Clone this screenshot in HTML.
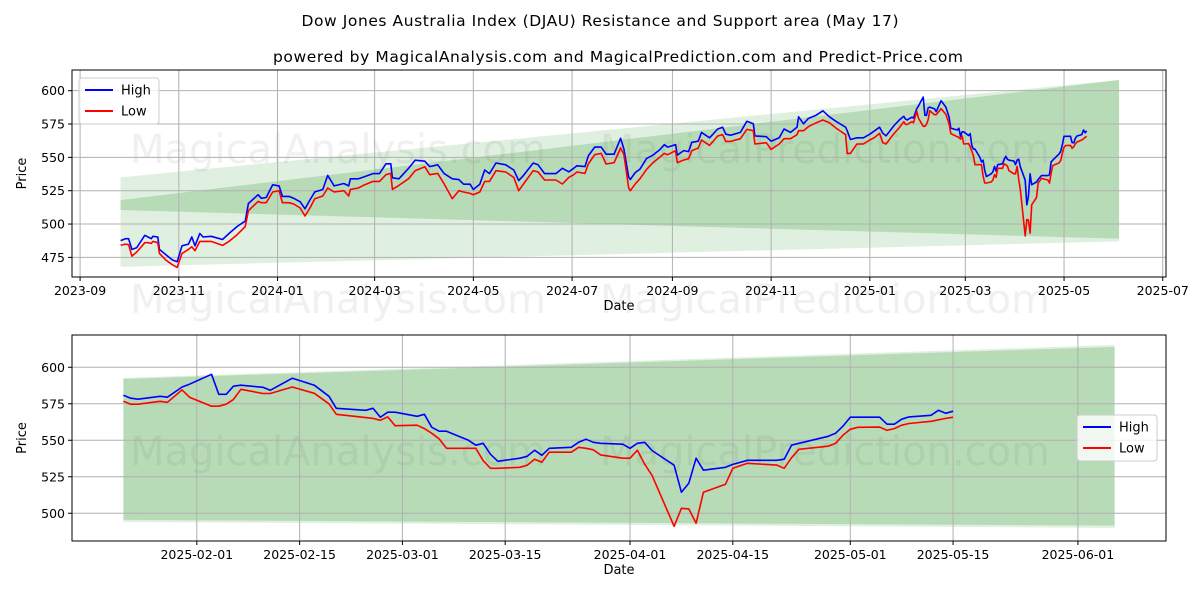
<!DOCTYPE html>
<html><head><meta charset="utf-8"><style>
html,body{margin:0;padding:0;background:#fff;}
svg{display:block;font-family:"DejaVu Sans","Liberation Sans",sans-serif;}
</style></head><body>
<svg id="chart" width="1200" height="600" viewBox="0 0 1200 600" xmlns="http://www.w3.org/2000/svg">
<rect width="1200" height="600" fill="#fff"/>
<text x="600" y="26" text-anchor="middle" font-size="15.5" textLength="597" fill="#000">Dow Jones Australia Index (DJAU) Resistance and Support area (May 17)</text>
<text x="618" y="62" text-anchor="middle" font-size="15.5" textLength="690" fill="#000">powered by MagicalAnalysis.com and MagicalPrediction.com and Predict-Price.com</text>
<g id="top"></g>
<g id="bottom"></g>
</svg>
<script>
const dates = ["2023-09-26","2023-09-29","2023-10-01","2023-10-03","2023-10-06","2023-10-11","2023-10-13","2023-10-15","2023-10-16","2023-10-19","2023-10-20","2023-10-24","2023-10-28","2023-10-31","2023-11-03","2023-11-07","2023-11-09","2023-11-11","2023-11-14","2023-11-16","2023-11-21","2023-11-28","2023-12-02","2023-12-07","2023-12-12","2023-12-14","2023-12-20","2023-12-22","2023-12-25","2023-12-29","2024-01-02","2024-01-04","2024-01-08","2024-01-11","2024-01-15","2024-01-18","2024-01-21","2024-01-24","2024-01-29","2024-02-01","2024-02-05","2024-02-11","2024-02-14","2024-02-15","2024-02-20","2024-02-23","2024-02-29","2024-03-04","2024-03-08","2024-03-11","2024-03-12","2024-03-16","2024-03-22","2024-03-26","2024-04-01","2024-04-04","2024-04-09","2024-04-13","2024-04-18","2024-04-22","2024-04-25","2024-04-29","2024-05-01","2024-05-05","2024-05-08","2024-05-11","2024-05-15","2024-05-21","2024-05-26","2024-05-29","2024-06-01","2024-06-07","2024-06-10","2024-06-14","2024-06-21","2024-06-25","2024-06-29","2024-07-02","2024-07-04","2024-07-09","2024-07-11","2024-07-15","2024-07-19","2024-07-22","2024-07-27","2024-07-31","2024-08-02","2024-08-05","2024-08-06","2024-08-09","2024-08-12","2024-08-16","2024-08-20","2024-08-24","2024-08-27","2024-08-29","2024-09-03","2024-09-04","2024-09-08","2024-09-11","2024-09-13","2024-09-17","2024-09-19","2024-09-24","2024-09-29","2024-10-02","2024-10-04","2024-10-07","2024-10-13","2024-10-17","2024-10-21","2024-10-22","2024-10-29","2024-11-01","2024-11-06","2024-11-09","2024-11-13","2024-11-17","2024-11-18","2024-11-21","2024-11-24","2024-11-29","2024-12-03","2024-12-07","2024-12-11","2024-12-17","2024-12-18","2024-12-20","2024-12-24","2024-12-28","2025-01-01","2025-01-04","2025-01-07","2025-01-09","2025-01-11","2025-01-16","2025-01-19",
"2025-01-22","2025-01-23","2025-01-24","2025-01-27","2025-01-28","2025-01-30","2025-01-31","2025-02-03","2025-02-04","2025-02-05","2025-02-06","2025-02-07","2025-02-10","2025-02-11","2025-02-14","2025-02-17","2025-02-19","2025-02-20","2025-02-24","2025-02-25","2025-02-26","2025-02-27","2025-02-28","2025-03-03","2025-03-04","2025-03-05","2025-03-06","2025-03-07","2025-03-10","2025-03-11","2025-03-12","2025-03-13","2025-03-14","2025-03-17","2025-03-18","2025-03-19","2025-03-20","2025-03-21","2025-03-24","2025-03-25","2025-03-26","2025-03-27","2025-03-28","2025-03-31","2025-04-01","2025-04-02","2025-04-03","2025-04-04","2025-04-07","2025-04-08","2025-04-09","2025-04-10","2025-04-11","2025-04-14","2025-04-15","2025-04-17","2025-04-21","2025-04-22","2025-04-23","2025-04-24","2025-04-28","2025-04-29","2025-04-30","2025-05-01","2025-05-02","2025-05-05","2025-05-06","2025-05-07","2025-05-08","2025-05-09","2025-05-12","2025-05-13","2025-05-14","2025-05-15"];
const highs = [487.6,489.0,489.0,481.0,482.3,491.6,490.3,489.0,490.8,490.3,481.0,477.0,473.1,471.8,483.7,485.0,490.3,483.7,492.9,490.3,490.8,488.4,492.9,498.2,502.2,515.4,522.0,519.3,519.9,529.4,528.6,520.7,520.7,519.3,516.7,511.4,518.0,524.1,525.9,536.5,528.6,530.4,528.6,533.9,533.9,535.2,537.8,537.8,545.2,545.2,534.7,533.9,541.8,547.9,547.1,543.1,544.4,537.8,533.9,533.3,529.9,529.9,525.9,529.9,540.5,537.8,545.8,544.4,540.5,532.6,536.5,545.8,544.4,537.8,537.8,541.8,539.2,541.8,543.7,543.1,551.1,557.7,557.7,552.4,552.4,564.3,556.3,535.2,533.4,538.6,541.2,549.1,551.7,555.6,559.5,557.7,559.5,551.7,555.1,554.3,561.3,562.1,568.7,564.7,571.3,572.6,567.4,566.6,568.7,577.0,575.2,566.1,565.5,562.1,564.7,571.3,568.7,572.6,580.4,575.2,579.1,581.7,584.9,580.4,577.0,572.6,570.0,563.4,564.7,564.7,567.4,570.0,572.6,568.1,566.1,573.9,577.8,
580.8,578.8,578.1,580.1,579.5,586.5,588.4,595.2,581.5,581.5,587.0,587.7,586.3,584.2,592.5,587.7,580.1,571.9,570.5,571.9,565.8,569.2,569.2,566.4,567.8,558.9,556.2,556.2,550.0,546.6,547.9,540.4,535.6,537.7,539.0,543.2,539.7,544.5,545.2,548.6,550.7,548.6,547.9,547.3,544.5,547.9,548.6,543.0,532.9,514.4,520.5,537.7,529.5,531.5,533.5,536.3,536.3,537.0,546.6,547.9,552.7,554.8,559.6,565.8,565.8,565.8,561.0,561.0,564.4,566.0,567.1,570.5,568.5,569.9];
const lows = [484,485,484.5,476,479,486,486,485.5,487,486,478,473,469.5,467.5,478,481,483,480,487,487,487,484,487,492,498,510,517,516,516,524,525,516,516,515,512,506,512,519,521,527,524,525,521,526,527,529,532,532,537,538,526,529,534,540,543,537,538,530,519,525,524,523,522,524,532,532,540,539,535,525,530,540,539,533,533,530,535,537,539,538,545,552,553,545,546,557,552,527,525,530,534,541,546,550,553,552,555,546,548,549,555,557,563,559,566,567,562,562,564,571,570,560,561,556,560,564,564,567,570,570,573,576,578,576,572,567,553,553,560,560,563,565,568,561,560,568,572,
576.7,574.7,574.7,576.7,576.0,584.5,579.5,573.3,573.3,574.7,578.0,584.9,582.0,582.0,586.5,582.2,575.0,567.8,565.5,565.0,563.7,566.0,560.0,560.3,558.0,554.8,551.0,544.5,544.5,544.5,536.0,530.8,530.8,531.5,532.9,537.0,535.0,541.8,541.8,545.2,544.5,543.5,540.0,537.7,537.7,543.2,533.6,526.0,491.1,503.4,503.0,493.2,514.4,519.9,530.8,534.2,533.0,530.8,538.0,543.8,545.9,547.9,553.4,557.5,558.9,559.0,556.8,558.0,560.3,561.5,563.0,564.0,565.0,565.8];
const bandDates = ["2023-09-26","2025-06-04"];
const topBand1Upper = [535,608], topBand1Lower = [468,487];
const topBand2Upper = [518,608], topBand2Lower = [510.5,489];
const botBandDates = ["2025-01-22","2025-06-06"];
const botBand1Upper = [592.7,615.3], botBand1Lower = [494,490];
const botBand2Upper = [592,614], botBand2Lower = [495.5,491.5];
const topYTicks = [475,500,525,550,575,600];
const topXTicks = ["2023-09-01","2023-11-01","2024-01-01","2024-03-01","2024-05-01","2024-07-01","2024-09-01","2024-11-01","2025-01-01","2025-03-01","2025-05-01","2025-07-01"];
const botYTicks = [500,525,550,575,600];
const botXTicks = ["2025-02-01","2025-02-15","2025-03-01","2025-03-15","2025-04-01","2025-04-15","2025-05-01","2025-05-15","2025-06-01"];

const NS="http://www.w3.org/2000/svg";
function t(s){return Date.parse(s+"T00:00:00Z");}
function mk(parent,tag,attrs){const e=document.createElementNS(NS,tag);for(const k in attrs)e.setAttribute(k,attrs[k]);parent.appendChild(e);return e;}

function drawPanel(g, cfg){
  const {L,R,T,B,d0,d1,v0,v1} = cfg;
  const xs = d => L + (t(d)-t(d0))/(t(d1)-t(d0))*(R-L);
  const ys = v => B - (v-v0)/(v1-v0)*(B-T);
  for (const w of cfg.wm){
    const tx = mk(g,'text',{x:w[0],y:w[1],'font-size':40,fill:'#000','fill-opacity':0.06});
    
    
    tx.textContent=w[2];
  }
  for (const b of cfg.bands){
    const p = [[xs(b.dates[0]),ys(b.up[0])],[xs(b.dates[1]),ys(b.up[1])],[xs(b.dates[1]),ys(b.lo[1])],[xs(b.dates[0]),ys(b.lo[0])]];
    const poly = mk(g,'polygon',{points:p.map(q=>q.join(',')).join(' '),fill:'rgb(0,128,0)','fill-opacity':b.a});
    
    
  }
  for (const v of cfg.yt){
    const y=ys(v);
    const ln=mk(g,'line',{x1:L,x2:R,y1:y,y2:y,stroke:'#b0b0b0','stroke-width':1});
    
    
    mk(g,'line',{x1:L-4,x2:L,y1:y,y2:y,stroke:'#000','stroke-width':1});
    const tx=mk(g,'text',{x:L-7,y:y+4.5,'font-size':12.5,'text-anchor':'end',fill:'#000'});
    
    
    tx.textContent=v;
  }
  for (const d of cfg.xt){
    const x=xs(d);
    const ln=mk(g,'line',{x1:x,x2:x,y1:T,y2:B,stroke:'#b0b0b0','stroke-width':1});
    
    
    mk(g,'line',{x1:x,x2:x,y1:B,y2:B+4,stroke:'#000','stroke-width':1});
    const tx=mk(g,'text',{x:x,y:B+18,'font-size':12.5,'text-anchor':'middle',fill:'#000'});
    
    
    tx.textContent=cfg.fmt(d);
  }
  const sel = dates.map((d,i)=>i).filter(i=>t(dates[i])>=t(cfg.from));
  const hp = sel.map(i=>xs(dates[i]).toFixed(1)+','+ys(highs[i]).toFixed(1)).join(' ');
  const lp = sel.map(i=>xs(dates[i]).toFixed(1)+','+ys(lows[i]).toFixed(1)).join(' ');
  const hl=mk(g,'polyline',{points:hp,fill:'none',stroke:'#0000ff','stroke-width':1.6,'stroke-linejoin':'round'});
  
  
  const ll=mk(g,'polyline',{points:lp,fill:'none',stroke:'#ff0000','stroke-width':1.6,'stroke-linejoin':'round'});
  
  
  const fr=mk(g,'rect',{x:L,y:T,width:R-L,height:B-T,fill:'none',stroke:'#000','stroke-width':1});
  
  
  const xl=mk(g,'text',{x:(L+R)/2,y:B+33,'font-size':13,'text-anchor':'middle',fill:'#000'});
  
  
  xl.textContent='Date';
  const yl=mk(g,'text',{x:0,y:0,'font-size':13,'text-anchor':'middle',fill:'#000',transform:`translate(26,${(T+B)/2}) rotate(-90)`});
  
  
  yl.textContent='Price';
  const lg=mk(g,'g',{});
  
  
  const [lx,ly]=cfg.legend;
  mk(lg,'rect',{x:lx,y:ly,width:80,height:46,rx:3,fill:'#fff','fill-opacity':0.8,stroke:'#cccccc'});
  const items=[['High','#0000ff'],['Low','#ff0000']];
  items.forEach((it,k)=>{
    const ent=mk(lg,'g',{});
    
    
    const yy=ly+12+k*21;
    mk(ent,'line',{x1:lx+6,x2:lx+34,y1:yy,y2:yy,stroke:it[1],'stroke-width':2});
    const tx=mk(ent,'text',{x:lx+42,y:yy+4.5,'font-size':13,fill:'#000'});
    tx.textContent=it[0];
  });
}
drawPanel(document.getElementById('top'),{
  L:72,R:1166,T:70,B:277,d0:"2023-08-27",d1:"2025-07-03",v0:460.3,v1:615.5,
  yt:topYTicks,xt:topXTicks,from:"2023-01-01",legend:[79,78],
  fmt:d=>d.slice(0,7),
  wm:[[130,163,'MagicalAnalysis.com'],[600,163,'MagicalPrediction.com'],[130,313,'MagicalAnalysis.com'],[600,313,'MagicalPrediction.com']],
  bands:[{dates:bandDates,up:topBand1Upper,lo:topBand1Lower,a:0.12},{dates:bandDates,up:topBand2Upper,lo:topBand2Lower,a:0.18}]
});
drawPanel(document.getElementById('bottom'),{
  L:72,R:1166,T:335,B:541,d0:"2025-01-15",d1:"2025-06-13",v0:481,v1:622.1,
  yt:botYTicks,xt:botXTicks,from:"2025-01-22",legend:[1077,415],
  fmt:d=>d,
  wm:[[130,465,'MagicalAnalysis.com'],[600,465,'MagicalPrediction.com']],
  bands:[{dates:botBandDates,up:botBand1Upper,lo:botBand1Lower,a:0.12},{dates:botBandDates,up:botBand2Upper,lo:botBand2Lower,a:0.18}]
});
</script>
</body></html>
